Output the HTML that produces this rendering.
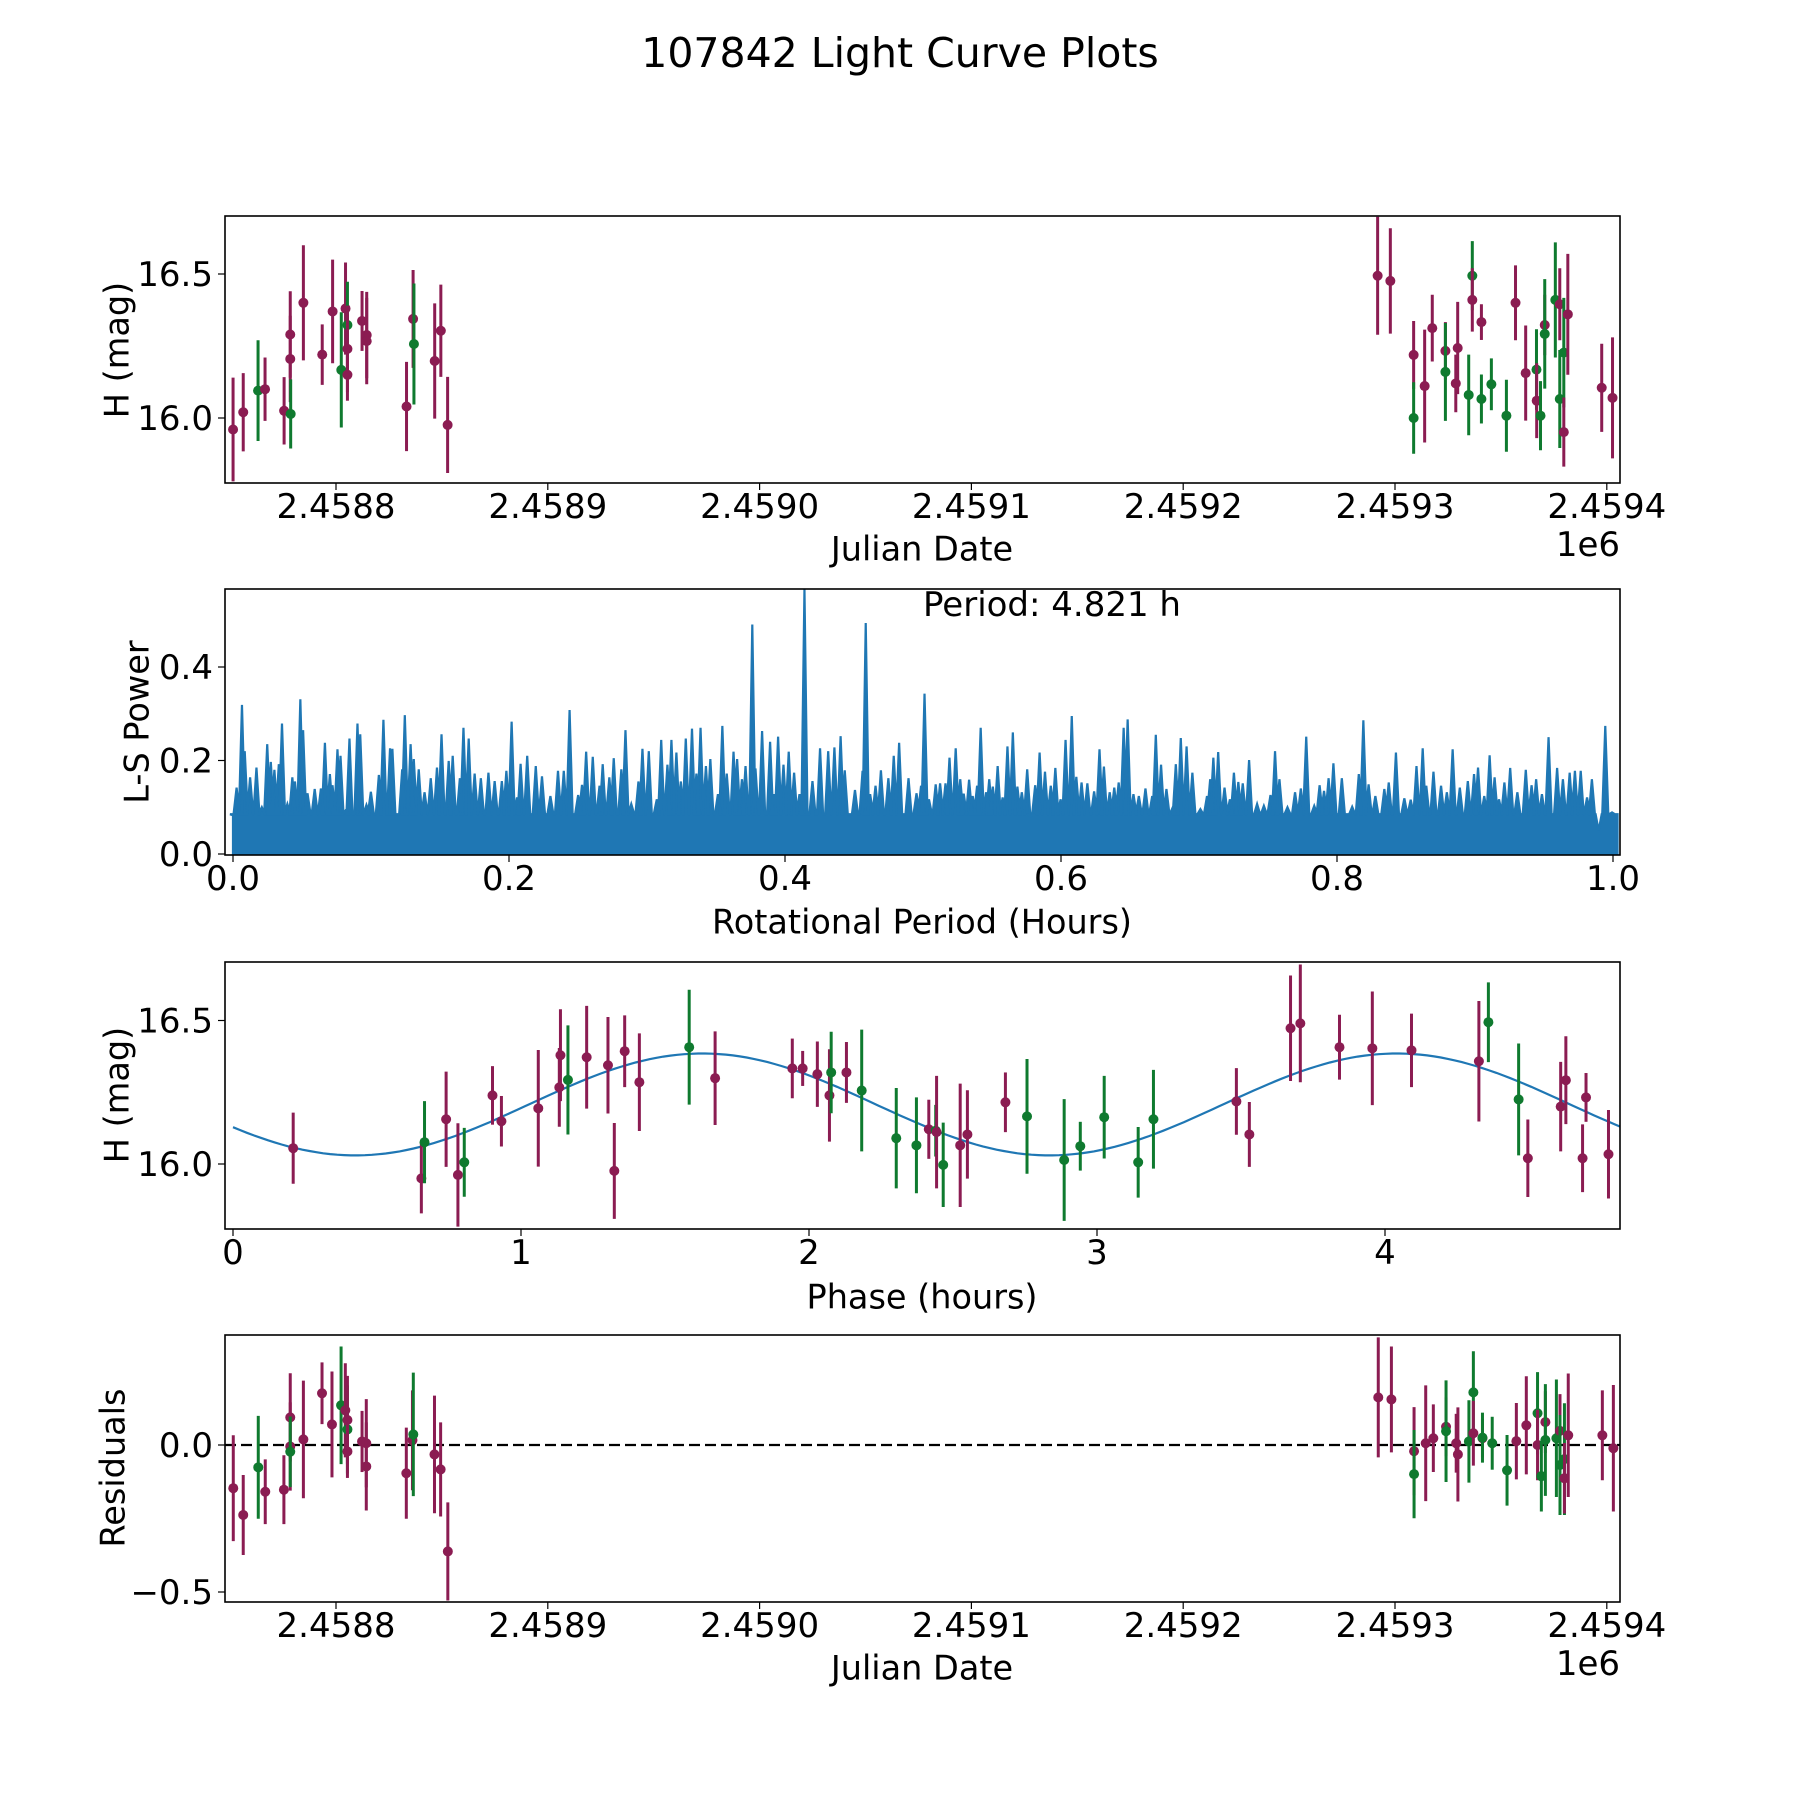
<!DOCTYPE html>
<html><head><meta charset="utf-8"><title>107842 Light Curve Plots</title>
<style>
html,body{margin:0;padding:0;background:#fff;}
svg{display:block;font-family:"DejaVu Sans","Liberation Sans",sans-serif;}
</style></head>
<body>
<svg id="fig" width="1800" height="1800" viewBox="0 0 1800 1800" xmlns="http://www.w3.org/2000/svg">
<rect width="1800" height="1800" fill="#fff"/>
<text x="900" y="67" font-size="41" text-anchor="middle">107842 Light Curve Plots</text>
<defs>
<clipPath id="c1"><rect x="225" y="216" width="1395" height="267"/></clipPath>
<clipPath id="c2"><rect x="225" y="589" width="1395" height="266"/></clipPath>
<clipPath id="c3"><rect x="225" y="962" width="1395" height="267"/></clipPath>
<clipPath id="c4"><rect x="225" y="1335" width="1395" height="267"/></clipPath>
</defs>
<g id="p1"></g>
<g id="p2"></g>
<g id="p3"></g>
<g id="p4"></g>
</svg>
<script>
// ---------- DATA ----------
const lcDays = [-48.6,-43.8,-36.8,-33.5,-24.5,-21.6,-21.6,-21.4,-15.4,-6.5,-1.6,2.5,4.5,5.4,5.4,5.4,12.3,14.5,14.5,33.3,36.4,36.8,46.6,49.5,52.7,
 491.8,497.8,508.8,508.8,514.0,517.6,523.8,523.8,528.7,529.6,534.8,536.5,536.5,540.8,540.8,545.5,552.6,556.9,561.7,566.8,566.9,568.7,570.7,570.7,575.7,577.8,577.8,579.7,579.7,581.6,597.6,602.7];
const lcMags = [15.96,16.02,16.095,16.10,16.025,16.29,16.205,16.014,16.40,16.22,16.37,16.167,16.38,16.323,16.24,16.15,16.337,16.288,16.267,16.04,16.344,16.257,16.198,16.303,15.976,
 16.494,16.476,16.219,16.0,16.111,16.312,16.233,16.16,16.12,16.243,16.08,16.494,16.41,16.333,16.066,16.117,16.008,16.4,16.156,16.168,16.06,16.008,16.323,16.292,16.41,16.395,16.066,16.227,15.951,16.36,16.105,16.07];
const lcErrs = [0.18,0.136,0.175,0.11,0.117,0.15,0.15,0.12,0.2,0.105,0.18,0.2,0.16,0.15,0.15,0.09,0.104,0.15,0.15,0.155,0.17,0.21,0.2,0.16,0.167,
 0.205,0.183,0.118,0.124,0.196,0.116,0.1,0.17,0.1,0.16,0.14,0.12,0.11,0.062,0.085,0.09,0.125,0.13,0.165,0.14,0.13,0.12,0.105,0.19,0.2,0.125,0.17,0.19,0.12,0.21,0.153,0.21];
const lcBand = ["P","P","G","P","P","P","P","G","P","P","P","G","P","G","P","P","P","P","P","P","P","G","P","P","P",
 "P","P","P","G","P","P","P","G","P","P","G","G","P","P","G","G","G","P","P","G","P","G","P","G","G","P","G","G","P","P","P","P"];
const jdTicks = [2458800,2458900,2459000,2459100,2459200,2459300,2459400];
const jdTickLabels = ["2.4588","2.4589","2.4590","2.4591","2.4592","2.4593","2.4594"];
const magTicks = [16.0,16.5];
const magTickLabels = ["16.0","16.5"];

const lsPeriods = [0.0,0.0026,0.0065,0.0085,0.0124,0.017,0.0209,0.0248,0.0274,0.03,0.0332,0.0355,0.0394,0.043,0.0449,0.0488,0.0508,0.054,0.0592,0.0637,0.0666,0.0702,0.0721,0.0757,0.0779,0.0818,0.0844,0.0902,0.0922,0.0967,0.0999,0.1057,0.109,0.1138,0.1155,0.1226,0.1245,0.1287,0.131,0.1346,0.1388,0.1433,0.1478,0.1511,0.1563,0.1592,0.1644,0.167,0.1708,0.1751,0.1796,0.1851,0.1896,0.1948,0.1981,0.2019,0.2058,0.2084,0.2132,0.2194,0.2239,0.23,0.2355,0.2397,0.2439,0.2501,0.2529,0.2559,0.2607,0.2656,0.2679,0.2727,0.2759,0.2814,0.2844,0.2886,0.2938,0.2967,0.3013,0.3071,0.3103,0.3148,0.3177,0.3213,0.3245,0.3281,0.3326,0.3358,0.3388,0.3427,0.3459,0.3514,0.3546,0.3578,0.3627,0.3653,0.3688,0.3714,0.3763,0.3786,0.3834,0.3892,0.3918,0.395,0.3989,0.4027,0.4066,0.4105,0.4137,0.4141,0.4199,0.4254,0.4313,0.4358,0.4403,0.4433,0.4507,0.4562,0.4585,0.4617,0.4656,0.4695,0.4749,0.4788,0.4827,0.4895,0.4953,0.4986,
 0.5011,0.5043,0.5092,0.5124,0.5163,0.5192,0.5237,0.527,0.5295,0.5334,0.536,0.5392,0.5418,0.5457,0.548,0.5506,0.5541,0.5577,0.5612,0.5651,0.5684,0.5716,0.5755,0.5781,0.5813,0.5845,0.5884,0.5926,0.5959,0.5997,0.6033,0.6078,0.6111,0.6149,0.6191,0.624,0.6279,0.6311,0.6353,0.6386,0.6418,0.6454,0.6483,0.6525,0.6564,0.6612,0.6661,0.6687,0.6725,0.6764,0.681,0.6832,0.6868,0.691,0.6952,0.701,0.7058,0.7081,0.7104,0.7139,0.7185,0.7224,0.7253,0.7285,0.7317,0.7363,0.7421,0.747,0.7518,0.7551,0.7583,0.7641,0.7696,0.7738,0.7777,0.7835,0.7874,0.7906,0.7939,0.7974,0.8035,0.811,0.8158,0.8191,0.8229,0.8278,0.8343,0.8375,0.8427,0.8488,0.8534,0.8576,0.8621,0.8647,0.8699,0.8754,0.8796,0.8838,0.889,0.8948,0.8993,0.9022,0.9067,0.9106,0.9142,0.9174,0.9213,0.9255,0.9307,0.9368,0.941,0.9443,0.9485,0.9533,0.9595,0.9637,0.9686,0.9724,0.9766,0.9812,0.9847,0.9896,0.9944,0.9993];
const lsPowers = [0.083,0.142,0.319,0.22,0.164,0.185,0.10,0.235,0.197,0.18,0.192,0.279,0.107,0.164,0.155,0.331,0.265,0.13,0.139,0.14,0.238,0.171,0.147,0.224,0.21,0.094,0.247,0.279,0.256,0.105,0.133,0.169,0.287,0.226,0.225,0.181,0.297,0.235,0.203,0.181,0.132,0.162,0.185,0.256,0.199,0.21,0.162,0.27,0.247,0.172,0.162,0.174,0.156,0.156,0.178,0.283,0.121,0.193,0.21,0.188,0.166,0.124,0.178,0.178,0.308,0.126,0.148,0.219,0.208,0.146,0.192,0.164,0.205,0.181,0.265,0.107,0.155,0.225,0.22,0.117,0.244,0.191,0.244,0.217,0.155,0.247,0.268,0.172,0.27,0.188,0.203,0.128,0.274,0.172,0.219,0.203,0.16,0.188,0.491,0.183,0.263,0.24,0.128,0.251,0.191,0.219,0.174,0.128,0.176,0.567,0.156,0.226,0.22,0.228,0.252,0.179,0.137,0.178,0.494,0.128,0.146,0.179,0.162,0.21,0.238,0.162,0.13,0.146,0.343,
 0.117,0.149,0.151,0.151,0.206,0.226,0.16,0.129,0.159,0.124,0.146,0.27,0.132,0.16,0.144,0.188,0.121,0.23,0.26,0.144,0.132,0.181,0.08,0.147,0.217,0.176,0.146,0.184,0.117,0.244,0.295,0.165,0.153,0.151,0.134,0.224,0.187,0.132,0.142,0.153,0.27,0.288,0.128,0.124,0.14,0.124,0.255,0.191,0.139,0.10,0.192,0.248,0.23,0.174,0.096,0.124,0.16,0.206,0.218,0.142,0.117,0.174,0.154,0.151,0.201,0.107,0.103,0.126,0.22,0.16,0.10,0.132,0.14,0.251,0.103,0.147,0.135,0.162,0.194,0.162,0.101,0.171,0.286,0.149,0.124,0.139,0.153,0.217,0.119,0.116,0.188,0.226,0.146,0.176,0.146,0.132,0.224,0.142,0.156,0.171,0.185,0.124,0.211,0.164,0.117,0.153,0.184,0.132,0.18,0.147,0.16,0.128,0.25,0.184,0.16,0.174,0.178,0.178,0.121,0.16,0.05,0.274,0.089,0.109];
const lsFloor = 0.085;
const periodTicks = [0.0,0.2,0.4,0.6,0.8,1.0];
const periodTickLabels = ["0.0","0.2","0.4","0.6","0.8","1.0"];
const powerTicks = [0.0,0.2,0.4];
const powerTickLabels = ["0.0","0.2","0.4"];

const phPhase = [0.209,0.654,0.665,0.740,0.781,0.803,0.901,0.932,1.060,1.133,1.137,1.163,1.228,1.302,1.324,1.36,1.411,1.584,1.674,1.942,1.978,2.029,2.071,2.077,2.13,2.183,2.303,2.373,
 2.416,2.44,2.443,2.466,2.525,2.55,2.682,2.757,2.886,2.942,3.025,3.143,3.196,3.484,3.529,3.672,3.706,3.842,3.956,4.092,4.326,4.359,4.464,4.496,4.61,4.628,4.686,4.698,4.776];
const phMags = [16.055,15.95,16.076,16.156,15.962,16.006,16.239,16.149,16.194,16.267,16.379,16.293,16.372,16.344,15.976,16.393,16.285,16.407,16.299,16.333,16.333,16.313,16.239,16.319,16.319,16.256,16.09,16.065,
 16.121,16.116,16.111,15.997,16.065,16.103,16.215,16.166,16.014,16.062,16.163,16.006,16.156,16.218,16.103,16.473,16.49,16.407,16.403,16.396,16.358,16.494,16.225,16.02,16.2,16.292,16.02,16.232,16.034];
const phErrs = [0.124,0.122,0.143,0.166,0.18,0.12,0.102,0.088,0.203,0.137,0.16,0.19,0.179,0.168,0.167,0.125,0.17,0.2,0.163,0.104,0.061,0.114,0.161,0.142,0.106,0.212,0.175,0.167,
 0.103,0.09,0.196,0.147,0.215,0.154,0.104,0.2,0.212,0.085,0.144,0.123,0.172,0.116,0.113,0.184,0.205,0.113,0.198,0.128,0.21,0.139,0.195,0.135,0.156,0.153,0.118,0.085,0.154];
const phBand = ["P","P","G","P","P","G","P","P","P","P","P","G","P","P","P","P","P","G","P","P","P","P","P","G","P","G","G","G",
 "P","G","P","G","P","P","P","G","G","G","G","G","G","P","P","P","P","P","P","P","P","G","G","P","P","P","P","P","P"];
const fitParams = [16.2075, 0.1775, 1.63, 2.4105];
const phaseTicks = [0,1,2,3,4];
const phaseTickLabels = ["0","1","2","3","4"];
const phaseMax = 4.821;

const resDays = [-48.5,-43.8,-36.7,-33.4,-24.6,-21.6,-21.6,-21.6,-15.4,-6.6,-1.9,2.4,4.4,5.4,5.4,5.4,12.3,14.3,14.3,33.2,36.1,36.5,46.5,49.4,52.8,
 492.1,498.3,509,509,514.5,518.1,524.1,524.1,528.9,529.7,534.9,537,537,541.3,541.3,545.9,552.9,557.3,562,567.3,567.3,569.1,571,571,576.2,577.9,577.9,580,580,581.8,597.9,603.1];
const resVals = [-0.147,-0.238,-0.076,-0.159,-0.152,0.094,-0.005,-0.023,0.019,0.176,0.07,0.135,0.118,0.053,0.085,-0.022,0.012,0.006,-0.073,-0.096,0.016,0.036,-0.032,-0.083,-0.362,
 0.162,0.155,-0.021,-0.099,0.006,0.023,0.062,0.047,0.006,-0.032,0.012,0.179,0.04,0.023,0.025,0.006,-0.086,0.013,0.067,0.108,0.0,-0.106,0.078,0.017,0.023,0.048,-0.068,-0.048,-0.113,0.033,0.033,-0.011];
const resErrs = [0.18,0.136,0.175,0.11,0.117,0.15,0.15,0.12,0.2,0.105,0.18,0.2,0.16,0.15,0.15,0.09,0.104,0.15,0.15,0.155,0.17,0.21,0.2,0.16,0.167,
 0.204,0.18,0.15,0.15,0.197,0.115,0.1,0.173,0.10,0.16,0.14,0.14,0.11,0.065,0.085,0.09,0.12,0.13,0.167,0.14,0.12,0.12,0.105,0.19,0.2,0.125,0.17,0.19,0.12,0.21,0.153,0.215];
const resBand = ["P","P","G","P","P","P","P","G","P","P","P","G","P","G","P","P","P","P","P","P","P","G","P","P","P",
 "P","P","P","G","P","P","P","G","P","P","G","G","P","P","G","G","G","P","P","G","P","G","P","G","G","P","G","G","P","P","P","P"];
const resTicks = [0.0,-0.5];
const resTickLabels = ["0.0","\u22120.5"];

// ---------- RENDER ----------
const NS = "http://www.w3.org/2000/svg";
const COL = {P:"#8b1c52", G:"#0f7a2f"};
const L = 225, R = 1620;
const TF = 34, LF = 33.5;
function mk(tag, attrs, parent){ const e=document.createElementNS(NS,tag); for(const k in attrs) e.setAttribute(k,attrs[k]); parent.appendChild(e); return e; }

const xJD = d => 336 + d*2.118;
const xJDabs = jd => xJD(jd - 2458800);
const y1 = m => 418 - (m-16)*288;
const xP = p => 233 + p*1380;
const y2 = v => 854 - v*467.5;
const xPh = f => 233 + f*288;
const y3 = m => 1164 - (m-16)*287;
const y4 = r => 1445 - r*294;

function frame(g, top, bot){
  const r = mk("rect",{x:L,y:top,width:R-L,height:bot-top,fill:"none",stroke:"#000","stroke-width":1.6},g);
  
  
}
function xticks(g, bot, vals, labels, fx){
  vals.forEach((v,i)=>{
    const x=fx(v);
    const t=mk("line",{x1:x,x2:x,y1:bot,y2:bot+7,stroke:"#000","stroke-width":1.2},g);
    
    
    const tx=mk("text",{x:x,y:bot+35,"font-size":TF,"text-anchor":"middle"},g);
    tx.textContent=labels[i];
    
    
  });
}
function yticks(g, vals, labels, fy){
  vals.forEach((v,i)=>{
    const y=fy(v);
    const t=mk("line",{x1:L-7,x2:L,y1:y,y2:y,stroke:"#000","stroke-width":1.2},g);
    
    
    const tx=mk("text",{x:L-12,y:y+12,"font-size":TF,"text-anchor":"end"},g);
    tx.textContent=labels[i];
    
    
  });
}
function label(g, txt, x, y, rot, name){
  const t=mk("text",{x:x,y:y,"font-size":LF,"text-anchor":"middle","dominant-baseline":"central"},g);
  if(rot) t.setAttribute("transform",`rotate(-90 ${x} ${y})`);
  t.textContent=txt;
  
  
}
function errpoints(g, clip, xs, ys, es, bands, fx, fy){
  const cg=mk("g",{"clip-path":`url(#${clip})`},g);
  
  
  xs.forEach((xv,i)=>{
    const x=fx(xv), c=COL[bands[i]];
    const ln=mk("line",{x1:x,x2:x,y1:fy(ys[i]-es[i]),y2:fy(ys[i]+es[i]),stroke:c,"stroke-width":3},cg);
    
    
    const d=mk("circle",{cx:x,cy:fy(ys[i]),r:5,fill:c},cg);
    
    
  });
}

// Panel 1
const g1=document.getElementById("p1");
errpoints(g1,"c1",lcDays,lcMags,lcErrs,lcBand,xJD,y1);
frame(g1,216,483);
xticks(g1,483,jdTicks,jdTickLabels,xJDabs);
yticks(g1,magTicks,magTickLabels,y1);
label(g1,"Julian Date",922,549,false,"x-axis-title");
label(g1,"H (mag)",117,350,true,"y-axis-title");
{const t=mk("text",{x:R,y:556,"font-size":TF,"text-anchor":"end"},g1); t.textContent="1e6";

}

// Panel 2
const g2=document.getElementById("p2");
{
  const cg=mk("g",{"clip-path":"url(#c2)"},g2);
  const hw=0.0022;
  let d=`M${xP(lsPeriods[0])},${y2(0)} L${xP(lsPeriods[0])},${y2(lsFloor)}`;
  lsPeriods.forEach((p,i)=>{
    d+=` L${xP(p-hw)},${y2(lsFloor)} L${xP(p)},${y2(lsPowers[i])} L${xP(p+hw)},${y2(lsFloor)}`;
  });
  const last=lsPeriods[lsPeriods.length-1]+0.004;
  d+=` L${xP(last)},${y2(lsFloor)} L${xP(last)},${y2(0)} Z`;
  const pth=mk("path",{d:d,fill:"#1f77b4",stroke:"#1f77b4","stroke-width":2.2,"stroke-linejoin":"miter"},cg);
  
  
}
frame(g2,589,855);
xticks(g2,855,periodTicks,periodTickLabels,xP);
yticks(g2,powerTicks,powerTickLabels,y2);
label(g2,"Rotational Period (Hours)",922,922,false,"x-axis-title");
label(g2,"L-S Power",137,722,true,"y-axis-title");
{const t=mk("text",{x:xP(0.5),y:616,"font-size":TF,"text-anchor":"start"},g2); t.textContent="Period: 4.821 h";

}

// Panel 3
const g3=document.getElementById("p3");
{
  const cg=mk("g",{"clip-path":"url(#c3)"},g3);
  let d="";
  const N=200;
  for(let k=0;k<=N;k++){
    const f=phaseMax*k/N;
    const m=fitParams[0]+fitParams[1]*Math.cos(2*Math.PI*(f-fitParams[2])/fitParams[3]);
    d+=(k?" L":"M")+xPh(f).toFixed(1)+","+y3(m).toFixed(1);
  }
  const pth=mk("path",{d:d,fill:"none",stroke:"#1f77b4","stroke-width":2.2},cg);
  
  
}
errpoints(g3,"c3",phPhase,phMags,phErrs,phBand,xPh,y3);
frame(g3,962,1229);
xticks(g3,1229,phaseTicks,phaseTickLabels,xPh);
yticks(g3,magTicks,magTickLabels,y3);
label(g3,"Phase (hours)",922,1297,false,"x-axis-title");
label(g3,"H (mag)",117,1095,true,"y-axis-title");

// Panel 4
const g4=document.getElementById("p4");
{
  const z=mk("line",{x1:L,x2:R,y1:y4(0),y2:y4(0),stroke:"#000","stroke-width":2.2,"stroke-dasharray":"11 5"},g4);
  
  
}
errpoints(g4,"c4",resDays,resVals,resErrs,resBand,xJD,y4);
frame(g4,1335,1602);
xticks(g4,1602,jdTicks,jdTickLabels,xJDabs);
yticks(g4,resTicks,resTickLabels,y4);
label(g4,"Julian Date",922,1668,false,"x-axis-title");
label(g4,"Residuals",113,1468,true,"y-axis-title");
{const t=mk("text",{x:R,y:1675,"font-size":TF,"text-anchor":"end"},g4); t.textContent="1e6";

}
</script>
</body></html>
